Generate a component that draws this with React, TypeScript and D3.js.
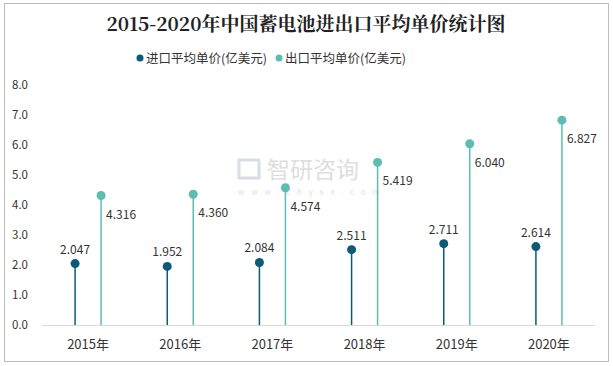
import React from 'react';
import * as d3 from 'd3';

const years = ['2015年', '2016年', '2017年', '2018年', '2019年', '2020年'];
const importPrice = [2.047, 1.952, 2.084, 2.511, 2.711, 2.614];
const exportPrice = [4.316, 4.36, 4.574, 5.419, 6.04, 6.827];
const yTicks = [0, 1, 2, 3, 4, 5, 6, 7, 8];
const seriesNames = ['进口平均单价(亿美元)', '出口平均单价(亿美元)'];

const IMPORT_COLOR = '#0b5a7a';
const EXPORT_COLOR = '#5cbdb3';
const FONT = '"Microsoft YaHei", "Noto Sans CJK SC", sans-serif';

const App: React.FC = () => {
  const W = 613;
  const H = 366;
  const x = d3.scaleBand<string>().domain(years).range([42, 595]);
  const y = d3.scaleLinear().domain([0, 8]).range([325, 85]);
  const offset = 13;

  return (
    <svg width={W} height={H} style={{ position: 'absolute', left: 0, top: 0, background: '#fff' }}>
      <rect x={4.5} y={3.5} width={604} height={358} fill="#fff" stroke="#bdbdbd" />

      <text x={306} y={31} textAnchor="middle" fontSize={19} fontWeight="bold"
        fontFamily='"Noto Serif CJK SC", "DejaVu Serif", serif' fill="#222">
        2015-2020年中国蓄电池进出口平均单价统计图
      </text>

      {/* 图例 */}
      {seriesNames.map((name, i) => {
        const lx = i === 0 ? 140 : 279;
        return (
          <g key={name}>
            <circle cx={lx} cy={58} r={3.5} fill={i === 0 ? IMPORT_COLOR : EXPORT_COLOR} />
            <text x={lx + 6} y={62.5} fontSize={12.5} fontFamily={FONT} fill="#333">{name}</text>
          </g>
        );
      })}

      {/* 水印 */}
      <g opacity={0.55}>
        <rect x={239} y={160} width={20} height={18} fill="none" stroke="#b8c4d8" strokeWidth={3} />
        <text x={267} y={178} fontSize={23} fontFamily={FONT} fill="#c4c4c4">智研咨询</text>
        <text x={238} y={195} fontSize={8} fontFamily={FONT} fill="#c8c8c8" letterSpacing={6.8}>www.chyxx.com</text>
      </g>

      {/* y 轴 */}
      {yTicks.map(t => (
        <text key={t} x={28} y={y(t) + 4} textAnchor="end" fontSize={11.5} fontFamily={FONT} fill="#333">
          {t.toFixed(1)}
        </text>
      ))}

      <line x1={42} x2={595} y1={325.5} y2={325.5} stroke="#d9d9d9" strokeWidth={1} />

      {years.map((yr, i) => {
        const cx = x(yr)! + x.bandwidth() / 2;
        const xi = cx - offset;
        const xe = cx + offset;
        return (
          <g key={yr}>
            <line x1={xi} x2={xi} y1={y(0)} y2={y(importPrice[i])} stroke={IMPORT_COLOR} strokeWidth={1.5} />
            <circle cx={xi} cy={y(importPrice[i])} r={4.5} fill={IMPORT_COLOR} />
            <text x={xi} y={y(importPrice[i]) - 10} textAnchor="middle" fontSize={12} fontFamily={FONT} fill="#333">
              {importPrice[i].toFixed(3)}
            </text>
            <line x1={xe} x2={xe} y1={y(0)} y2={y(exportPrice[i])} stroke={EXPORT_COLOR} strokeWidth={1.5} />
            <circle cx={xe} cy={y(exportPrice[i])} r={4.5} fill={EXPORT_COLOR} />
            <text x={xe + 5} y={y(exportPrice[i]) + 23} fontSize={12} fontFamily={FONT} fill="#333">
              {exportPrice[i].toFixed(3)}
            </text>
            <text x={cx} y={349} textAnchor="middle" fontSize={13} fontFamily={FONT} fill="#333">{yr}</text>
          </g>
        );
      })}
    </svg>
  );
};

export default App;
